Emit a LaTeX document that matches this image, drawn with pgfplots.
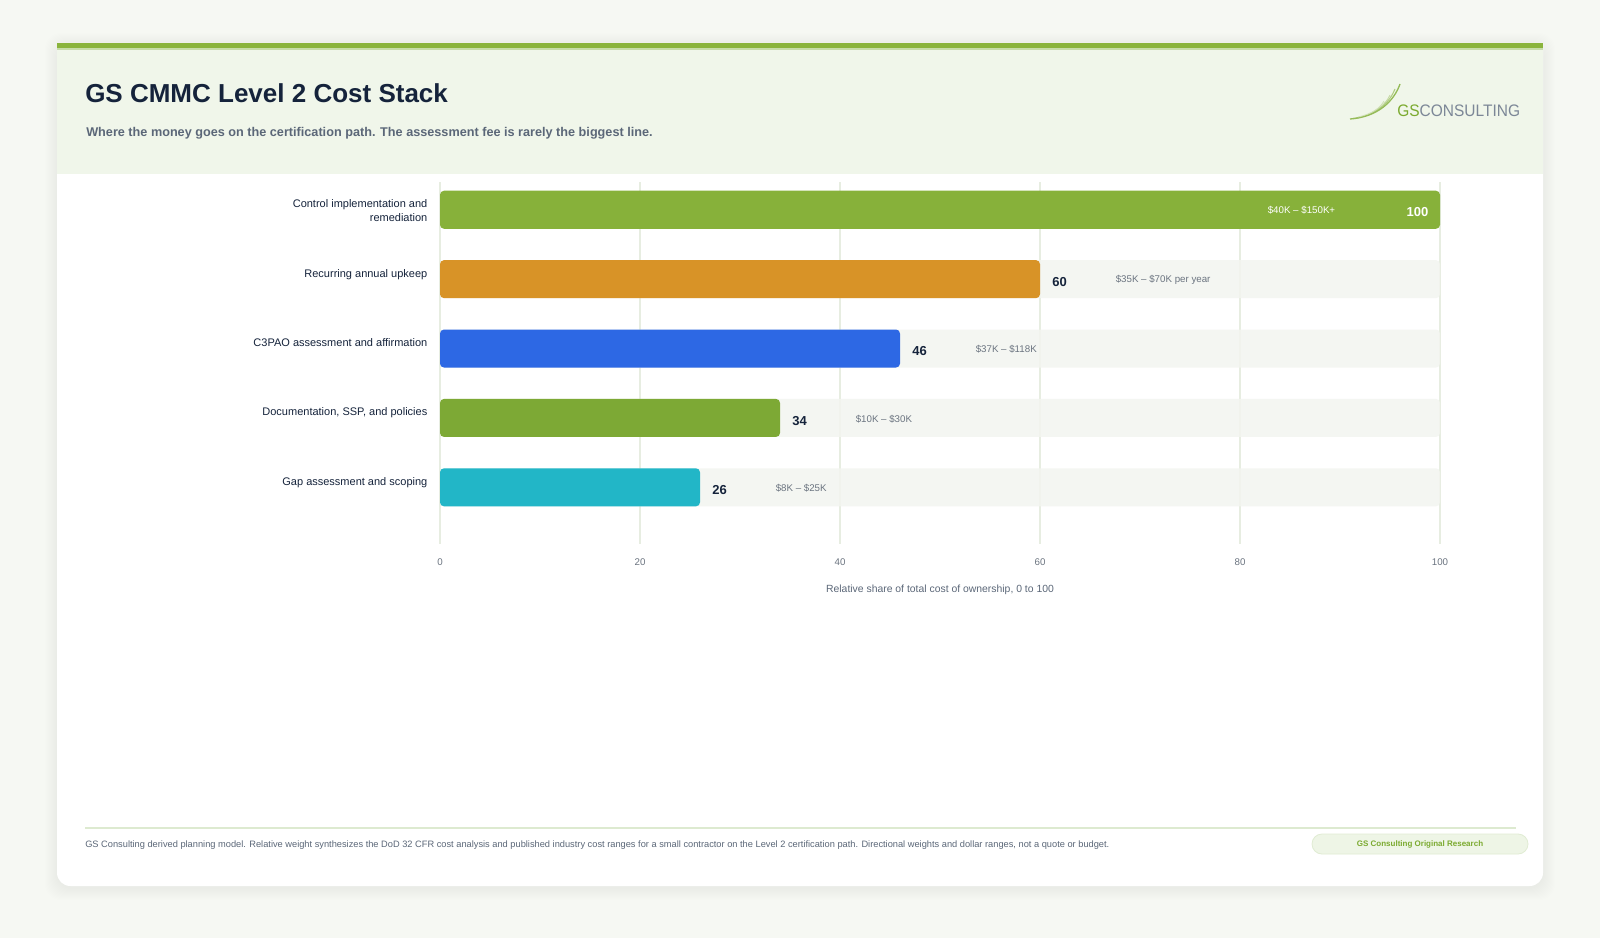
\documentclass[border=0pt]{standalone}
\usepackage{fontspec}
\setmainfont{Liberation Sans}
\usepackage{pgfplots}
\pgfplotsset{compat=1.18}

\definecolor{pagebg}{HTML}{F6F8F3}
\definecolor{headerbg}{HTML}{F0F6EA}
\definecolor{stripe}{HTML}{8AB43C}
\definecolor{stripelight}{HTML}{C6DCA8}
\definecolor{navy}{HTML}{15233B}
\definecolor{subgray}{HTML}{5B6778}
\definecolor{tickgray}{HTML}{6B7480}
\definecolor{gridc}{HTML}{E7EDE1}
\definecolor{track}{HTML}{F3F5F0}
\definecolor{cA}{HTML}{87B13A}
\definecolor{cB}{HTML}{D89327}
\definecolor{cC}{HTML}{2D68E4}
\definecolor{cD}{HTML}{7DA935}
\definecolor{cE}{HTML}{22B6C7}
\definecolor{logogreen}{HTML}{7BAA2F}
\definecolor{logogray}{HTML}{7C8797}
\definecolor{footline}{HTML}{DDEAD0}
\definecolor{badgebg}{HTML}{EEF5E6}
\definecolor{badgeborder}{HTML}{E0ECD3}

\newcommand{\fs}[1]{\fontsize{#1}{1.2\dimexpr#1pt\relax}\selectfont}
\tikzset{rangelbl/.style={anchor=west, inner sep=0pt, yshift=-0.7pt, font=\fs{7.3}, text=tickgray}}

\begin{document}
\begin{tikzpicture}
\begin{scope}[x=0.75pt,y=-0.75pt]
  \fill[pagebg] (0,0) rectangle (1600,938);
  \path[use as bounding box] (0,0) rectangle (1600,938);
  % soft shadow around the card
  \foreach \i in {1,...,12} {
    \fill[black, opacity=0.0045, rounded corners=12pt]
      (57-\i,43-\i+2) rectangle (1543+\i,886+\i+2);
  }
  % card
  \fill[white]
    (57,43) -- (1543,43) [rounded corners=10pt] -- (1543,886) -- (57,886) [sharp corners] -- cycle;
  % header band and top stripe
  \fill[headerbg] (57,49) rectangle (1543,174);
  \fill[stripe] (57,43) rectangle (1543,48);
  \fill[stripelight] (57,48) rectangle (1543,50);
  % title and subtitle
  \node[anchor=base west, inner sep=0pt, text=navy, font=\bfseries\fs{19.5}] at (85,103) {GS CMMC Level 2 Cost Stack};
  \node[anchor=base west, inner sep=0pt, text=subgray, font=\bfseries\fs{9.5}] at (86,137) {Where the money goes on the certification path. The assessment fee is rarely the biggest line.};
  % logo
  \draw[logogreen!45, line width=0.6pt] (1356,118) .. controls (1374,115) and (1386,104) .. (1390,95);
  \draw[logogreen!60, line width=0.8pt] (1353,118.5) .. controls (1376,116) and (1390,102) .. (1395,89);
  \draw[logogreen!80, line width=1pt] (1350,119) .. controls (1378,117) and (1394,101) .. (1400,84);
  \draw[logogreen!35, line width=0.6pt] (1358,117) .. controls (1372,114) and (1380,108) .. (1384,101);
  \node[anchor=base west, inner sep=0pt, font=\fs{12.5}, xscale=0.93] at (1397,117)
    {\textcolor{logogreen}{GS}\textcolor{logogray}{CONSULTING}};
  % footer
  \draw[footline, line width=0.9pt] (85,828) -- (1516,828);
  \node[anchor=west, inner sep=0pt, text=subgray, font=\fs{6.95}] at (85,845)
    {GS Consulting derived planning model. Relative weight synthesizes the DoD 32 CFR cost analysis and published industry cost ranges for a small contractor on the Level 2 certification path. Directional weights and dollar ranges, not a quote or budget.};
  \draw[fill=badgebg, draw=badgeborder, line width=0.6pt, rounded corners=7.5pt] (1312,834) rectangle (1528,854);
  \node[inner sep=0pt, text=logogreen, font=\bfseries\fs{6}] at (1420,844) {GS Consulting Original Research};
\end{scope}

\begin{axis}[
  at={(330pt,-408pt)}, anchor=south west,
  scale only axis, width=750pt, height=271.5pt,
  xbar, bar width=0.548, bar shift=0pt,
  xmin=0, xmax=100, ymin=-0.40, ymax=4.817, y dir=reverse,
  xtick={0,20,...,100}, ytick={0,...,4},
  yticklabels={{Control implementation and\\remediation},
               {Recurring annual upkeep},
               {C3PAO assessment and affirmation},
               {Documentation, SSP, and policies},
               {Gap assessment and scoping}},
  yticklabel style={align=right, font=\fontsize{8.25}{10.7}\selectfont, text=navy,
    inner sep=0pt, anchor=north east, xshift=-9.3pt, yshift=7.7pt},
  xticklabel style={font=\fs{7.3}, text=tickgray, inner sep=0pt, yshift=-10.8pt},
  /pgf/number format/assume math mode=true,
  xmajorgrids, major grid style={draw=gridc, line width=1pt},
  axis line style={draw=none}, major tick length=0pt,
  xlabel={Relative share of total cost of ownership, 0 to 100},
  xlabel style={font=\fs{7.8}, text=subgray, at={(axis description cs:0.5,0)}, anchor=center, yshift=-34.2pt},
  clip=false,
  value/.style={nodes near coords, point meta=x,
    nodes near coords style={anchor=west, inner sep=0pt, xshift=9pt, yshift=-2pt,
      font=\bfseries\fs{9.75}, text=navy}},
]
  % background tracks for each row
  \addplot[fill=track, draw=none, rounded corners=3pt, opacity=0.85] coordinates {(100,1) (100,2) (100,3) (100,4)};
  % cost components
  \addplot[fill=cA, draw=none, rounded corners=3pt, nodes near coords, point meta=x,
    nodes near coords style={anchor=east, inner sep=0pt, xshift=-8.5pt, yshift=-2pt,
      font=\bfseries\fs{9.75}, text=white}] coordinates {(100,0)};
  \addplot[fill=cB, draw=none, rounded corners=3pt, value] coordinates {(60,1)};
  \addplot[fill=cC, draw=none, rounded corners=3pt, value] coordinates {(46,2)};
  \addplot[fill=cD, draw=none, rounded corners=3pt, value] coordinates {(34,3)};
  \addplot[fill=cE, draw=none, rounded corners=3pt, value] coordinates {(26,4)};
  % dollar ranges
  \node[rangelbl, anchor=center, text=white] at (axis cs:86.15,0) {\$40K – \$150K+};
  \node[rangelbl] at (axis cs:67.55,1) {\$35K – \$70K per year};
  \node[rangelbl] at (axis cs:53.55,2) {\$37K – \$118K};
  \node[rangelbl] at (axis cs:41.55,3) {\$10K – \$30K};
  \node[rangelbl] at (axis cs:33.55,4) {\$8K – \$25K};
\end{axis}
\end{tikzpicture}
\end{document}
